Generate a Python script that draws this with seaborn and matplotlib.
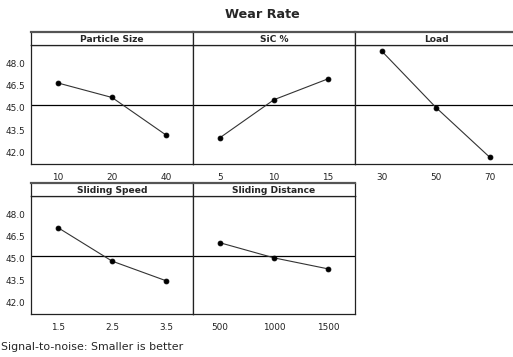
import numpy as np
import pandas as pd
import matplotlib
matplotlib.use("Agg")
import matplotlib.pyplot as plt
import seaborn as sns

sns.set_style("white")
plt.rcParams['font.family'] = ['DejaVu Sans']

title = "Wear Rate"
footer = "Signal-to-noise: Smaller is better"
factors = ["Particle Size", "SiC %", "Load", "Sliding Speed", "Sliding Distance"]
levels = [["10", "20", "40"], ["5", "10", "15"], ["30", "50", "70"],
          ["1.5", "2.5", "3.5"], ["500", "1000", "1500"]]
particle_size = [46.68, 45.70, 43.16]
sic = [42.98, 45.55, 46.96]
load = [48.82, 45.02, 41.64]
sliding_speed = [47.09, 44.81, 43.47]
sliding_distance = [46.06, 45.03, 44.28]
series = [particle_size, sic, load, sliding_speed, sliding_distance]
yticks = [42.0, 43.5, 45.0, 46.5, 48.0]

grand_mean = np.mean(particle_size + sic + load)

W, H = 513, 357
fig = plt.figure(figsize=(W / 100, H / 100), dpi=100)

col_x = [31, 193, 355]
pw = 162
rows = [(32, 45, 164), (183, 196, 314)]  # strip top, strip bottom/axes top, axes bottom
edge = '#222222'

for i, (name, lv, vals) in enumerate(zip(factors, levels, series)):
    r, c = divmod(i, 3)
    st, at, ab = rows[r]
    x0 = col_x[c]
    extra = 6 if c == 2 else 0
    ax = fig.add_axes([x0 / W, 1 - ab / H, (pw + extra) / W, (ab - at) / H])
    sax = fig.add_axes([x0 / W, 1 - at / H, (pw + extra) / W, (at - st) / H])
    df = pd.DataFrame({"level": lv, "sn": vals})
    sns.pointplot(data=df, x="level", y="sn", order=lv, color='black',
                  markers='o', markersize=3.5, linewidth=0.8, ax=ax)
    for ln in ax.lines:
        ln.set_color('#333333')
        ln.set_markerfacecolor('black')
        ln.set_markeredgecolor('black')
    ax.axhline(grand_mean, color='black', lw=0.9, zorder=0)
    ax.set_xlim(-0.5, 2.5 + extra / 54)
    ax.set_ylim(41.2, 49.25)
    ax.set_xlabel("")
    ax.set_ylabel("")
    ax.set_yticks(yticks)
    if c == 0:
        ax.set_yticklabels([f"{v:.1f}" for v in yticks])
    else:
        ax.set_yticklabels([])
    ax.tick_params(axis='both', labelsize=6.4, colors='#222222', length=2.5,
                   width=0.6, direction='out')
    ax.tick_params(axis='y', pad=1.5)
    if c != 0:
        ax.tick_params(axis='y', length=0)
    ax.tick_params(axis='x', pad=4)
    for s in ax.spines.values():
        s.set_color(edge)
        s.set_linewidth(0.9)
    sax.set_xticks([])
    sax.set_yticks([])
    for s in sax.spines.values():
        s.set_color(edge)
        s.set_linewidth(0.9)
    sax.spines['top'].set_linewidth(1.6)
    sax.spines['top'].set_color('#555555')
    sax.text(81 / (pw + extra), 0.45, name, ha='center', va='center', fontsize=6.6,
             fontweight='bold', transform=sax.transAxes)

fig.text(262 / W, 1 - 15 / H, title, ha='center', va='center',
         fontsize=9.2, fontweight='bold')
fig.text(0.002, 1 - 347 / H, footer, ha='left', va='center', fontsize=7.9)

fig.savefig("out.png", dpi=100)
